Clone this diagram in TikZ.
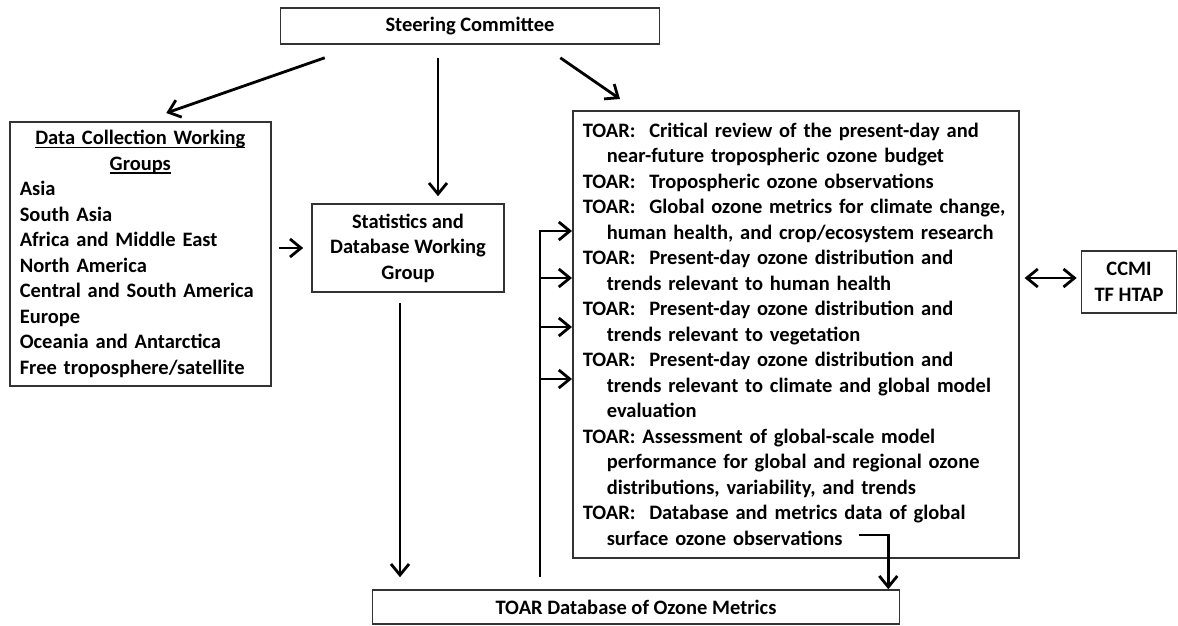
\documentclass[tikz,border=0pt]{standalone}
\usepackage{fontspec}
\setmainfont{Carlito}
\usetikzlibrary{arrows.meta}

\newcommand{\toarind}{\hspace*{24pt}}
\newlength{\ulwidth}
\newcommand{\thickul}[1]{\settowidth{\ulwidth}{#1}\rlap{\rule[-3.8pt]{\ulwidth}{1.6pt}}#1}

\tikzset{
  box/.style={draw=black!80, line width=1.6pt, inner sep=0pt, font=\fontsize{20.5}{25.5}\selectfont\bfseries},
  arr/.style={line width=2.8pt, -{Straight Barb[length=11pt,width=18pt]}},
}

\begin{document}
\begin{tikzpicture}[x=1pt,y=-1pt]
  \useasboundingbox (0,0) rectangle (1178,626);

  \node[box, minimum width=379pt, minimum height=36pt] (steer) at (470,26) {Steering Committee};

  \node[box, anchor=north west, minimum width=261pt, minimum height=264pt, inner xsep=10pt, text width=241pt, align=left] (datacol) at (9,121) {%
    \makebox[241pt]{\thickul{Data Collection Working}}\\
    \makebox[241pt]{\thickul{Groups}}\\
    Asia\\
    South Asia\\
    Africa and Middle East\\
    North America\\
    Central and South America\\
    Europe\\
    Oceania and Antarctica\\
    Free troposphere/satellite};

  \node[box, minimum width=192pt, minimum height=88pt, align=center] (stats) at (408,248) {Statistics and\\ Database Working\\ Group};

  \node[box, anchor=north west, minimum width=446pt, minimum height=447pt, inner xsep=10pt, text width=426pt, align=left] (toar) at (572,110) {%
    TOAR:\ \ Critical review of the present-day and\\
    \toarind near-future tropospheric ozone budget\\
    TOAR:\ \ Tropospheric ozone observations\\
    TOAR:\ \ Global ozone metrics for climate change,\\
    \toarind human health, and crop/ecosystem research\\
    TOAR:\ \ Present-day ozone distribution and\\
    \toarind trends relevant to human health\\
    TOAR:\ \ Present-day ozone distribution and\\
    \toarind trends relevant to vegetation\\
    TOAR:\ \ Present-day ozone distribution and\\
    \toarind trends relevant to climate and global model\\
    \toarind evaluation\\
    TOAR: Assessment of global-scale model\\
    \toarind performance for global and regional ozone\\
    \toarind distributions, variability, and trends\\
    TOAR:\ \ Database and metrics data of global\\
    \toarind surface ozone observations};

  \node[box, minimum width=95pt, minimum height=62pt, align=center] (ccmi) at (1129,282) {CCMI\\ TF HTAP};

  \node[box, minimum width=527pt, minimum height=34pt] (metrics) at (636,607) {TOAR Database of Ozone Metrics};

  % steering committee
  \draw[arr] ([xshift=45pt,yshift=-13pt]steer.south west) -- ([xshift=26pt,yshift=8pt]datacol.north);
  \draw[arr, shorten >=7pt] ([xshift=-32pt,yshift=-13pt]steer.south) -- ([xshift=-32pt]steer.south |- stats.north);
  \draw[arr] ([xshift=-100pt,yshift=-13pt]steer.south east) -- ([xshift=48pt,yshift=11pt]toar.north west);

  % working groups
  \draw[arr] ([xshift=7pt]datacol.east |- stats.west) -- ([xshift=-8pt]stats.west);
  \draw[arr, shorten >=12pt] ([xshift=-8pt,yshift=-10pt]stats.south) -- ([xshift=-8pt]stats.south |- metrics.north);

  % database feeds the assessments
  \coordinate (bustop) at (540,231);
  \coordinate (busbot) at (540,577);
  \draw[arr] (busbot) -- (bustop) -- (toar.west |- bustop);
  \foreach \yy in {278,327,379}
    \draw[arr] (bustop |- 0,\yy) -- (toar.west |- 0,\yy);

  \coordinate (obsend) at (859,535);
  \draw[arr] (obsend) -| ([xshift=-12pt]metrics.north east);

  \draw[arr, {Straight Barb[length=11pt,width=18pt]}-{Straight Barb[length=11pt,width=18pt]}] ([xshift=5pt]toar.east |- 0,278) -- ([xshift=-4pt]ccmi.west |- 0,278);
\end{tikzpicture}
\end{document}
